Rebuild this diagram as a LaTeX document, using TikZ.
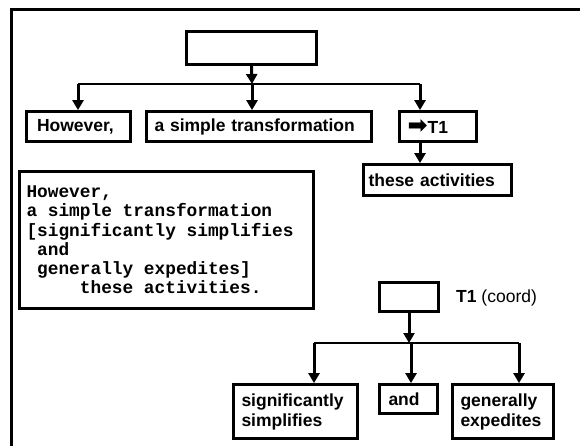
\documentclass[tikz,border=0pt]{standalone}
\usepackage{fontspec}
\setmainfont{Liberation Sans}
\newfontfamily\monob{Liberation Mono}
\newfontfamily\symfont{DejaVu Sans}
\usetikzlibrary{arrows.meta}
\begin{document}
\begin{tikzpicture}[x=1pt,y=-1pt,
  box/.style={draw, line width=2.8pt, inner ysep=0pt, align=left,
    font=\fontsize{17.5}{20}\selectfont\bfseries},
  mono/.style={draw, line width=2.8pt, inner ysep=0pt, align=left,
    font=\monob\bfseries\fontsize{17.8}{19.2}\selectfont},
  conn/.style={line width=2.8pt},
  arr/.style={line width=3pt, -{Triangle[length=10pt,width=11pt]}},
  lbl/.style={font=\fontsize{17.5}{20}\selectfont, inner sep=0pt, anchor=west}
]
\useasboundingbox (0,0) rectangle (580,446);
% open frame
\draw[line width=3pt] (11.5,446) -- (11.5,9.5) -- (580,9.5);

% top tree
\node[box, minimum width=130pt, minimum height=33pt] (top) at (251.5,48) {};
\node[box, minimum height=30pt, inner xsep=10.5pt, text width=83pt] (however) at (78.5,126.5) {However,};
\node[box, minimum height=30pt, inner xsep=8pt, text width=209pt] (simple) at (259,126.5) {a simple transformation};
\node[box, minimum height=30pt, inner xsep=8pt, text width=61pt] (tref) at (438,126.5) {{\symfont\fontsize{24}{20}\selectfont ➡}T1};
\node[box, minimum height=31pt, inner xsep=5pt, text width=138pt] (acts) at (437.5,180) {these activities};

\coordinate (busT) at (252,84);
\coordinate (busTL) at (78,84);
\coordinate (busTR) at (420,84);
\draw[arr] (top.south) -- (busT);
\draw[conn] (busTL) -- (busTR);
\draw[arr] (busTL) -- (however.north -| busTL);
\draw[arr] (busT) -- (simple.north -| busT);
\draw[arr] (busTR) -- (tref.north -| busTR);
\draw[arr] (tref.south -| busTR) -- (acts.north -| busTR);

% text box
\node[mono, minimum height=137pt, inner xsep=7pt, text width=280pt] (para) at (166.5,240)
  {\spaceskip=0.6em\relax However,\\
   a simple transformation\\
   {[}significantly simplifies\\
   \phantom{x}and\\
   \phantom{x}generally expedites{]}\\
   \phantom{xxxxx}these activities.};

% coordination tree
\node[box, minimum width=59pt, minimum height=29pt] (tone) at (409,297) {};
\node[lbl] (tonelbl) at (456,298) {\textbf{T1} (coord)};
\node[box, minimum height=54pt, inner xsep=8pt, text width=108pt] (sig) at (295.5,411.5) {significantly\\simplifies};
\node[box, minimum height=29pt, inner xsep=9pt, text width=40pt] (and) at (408.5,399) {and};
\node[box, minimum height=54pt, inner xsep=8pt, text width=85pt] (gen) at (503,411.5) {generally\\expedites};

\coordinate (busB) at (409,343);
\coordinate (busBL) at (314,343);
\coordinate (busBM) at (411,343);
\coordinate (busBR) at (519,343);
\draw[arr] (tone.south) -- (busB);
\draw[conn] (busBL) -- (busBR);
\draw[arr] (busBL) -- (sig.north -| busBL);
\draw[arr] (busBM) -- (and.north -| busBM);
\draw[arr] (busBR) -- (gen.north -| busBR);
\end{tikzpicture}
\end{document}
